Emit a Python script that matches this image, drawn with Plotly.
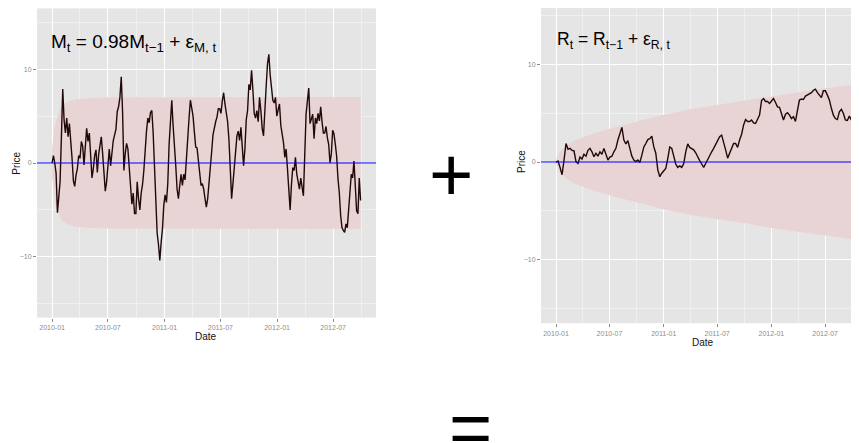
import pandas as pd
import plotly.graph_objects as go

# ---------------- data ----------------
START_DATE = "2010-01-01"
END_DATE = "2012-09-28"

m_values = [
    0.0, 0.8, 0.0, -1.1, -5.3, -3.5, -2.0, 2.8, 7.9, 4.6, 3.2, 4.8, 2.8, 4.2, 2.7, 0.5,
    -1.9, -2.5, -1.3, -0.6, 0.8, 0.5, 2.3, 1.8, -0.2, 1.4, 3.7, 2.3, 3.2, 0.8, -1.6, -0.6,
    0.8, 1.4, -1.0, 0.9, 2.0, 2.8, 1.0, -1.5, -3.0, -2.0, -0.2, 1.5, -0.3, 1.2, 2.4, 3.0,
    3.6, 5.5, 6.0, 7.0, 9.2, 5.5, -0.8, 1.0, 2.1, 1.5, -0.5, -2.2, -4.4, -3.2, -5.4, -5.4,
    -2.0, -3.8, -5.0, -3.2, -2.3, -0.8, 1.9, 3.4, 4.8, 4.3, 5.4, 5.6, 3.2, -0.8, -3.5, -7.5,
    -8.7, -10.4, -8.5, -7.0, -4.5, -3.4, -4.2, -2.2, 2.0, 4.8, 6.7, 4.0, 2.2, -0.3, -2.8, -3.8,
    -2.4, -1.2, -2.4, -1.2, -1.8, 0.8, 2.6, 4.8, 6.7, 6.0, 5.0, 3.3, 1.7, 1.6, 0.0, -1.3,
    -2.4, -2.2, -2.8, -3.8, -4.7, -3.8, -1.8, -0.3, 1.2, 3.0, 3.8, 4.4, 4.9, 5.8, 5.8, 5.3,
    6.6, 7.5, 6.3, 5.2, 4.4, 2.5, -1.5, -3.8, -2.2, -0.2, 1.2, 2.9, 3.4, 2.4, 3.8, 1.5,
    -0.3, 1.5, 4.6, 5.6, 8.4, 7.8, 9.9, 7.8, 5.3, 4.8, 5.6, 4.4, 7.0, 5.6, 3.7, 2.9,
    5.0, 8.2, 10.6, 11.6, 9.4, 8.2, 6.7, 6.4, 7.0, 5.0, 5.8, 6.3, 4.0, 3.1, 2.2, 0.6,
    1.5, -0.6, -3.0, -5.0, -2.3, -0.5, -0.8, 0.6, -1.2, -2.0, -2.8, -1.6, -2.6, -3.5, 0.8, 5.2,
    6.6, 8.0, 4.2, 4.7, 5.2, 2.6, 4.8, 4.2, 5.3, 4.5, 6.0, 4.4, 3.2, 3.2, 3.9, 2.7,
    2.0, 0.0, 1.0, 3.5, 3.1, 2.0, 0.7, -1.7, -3.2, -5.6, -6.9, -7.2, -7.4, -6.5, -6.9, -5.0,
    -2.4, -1.2, -1.6, 0.2, -2.4, -5.1, -5.4, -1.6, -4.0,
]

r_values = [
    0.0, 0.1, -0.55, -1.3, 0.2, 1.9, 1.3, 1.4, 1.2, 1.15, 0.05, -0.15, 0.5, 0.3, 0.8, 0.6,
    1.2, 1.4, 1.05, 0.55, 0.9, 0.6, 1.05, 0.8, 1.4, 0.7, 0.2, 0.5, 0.6, 1.05, 1.4, 2.25,
    3.0, 3.55, 2.25, 1.85, 2.2, 1.4, 0.6, 0.2, 0.05, 0.2, -0.05, 0.7, 1.55, 1.9, 2.3, 2.4,
    2.65, 1.55, 0.9, -0.8, -1.5, -1.15, -0.9, -0.65, 0.35, 1.55, 1.4, 0.55, -0.2, -0.55, -0.4, -0.55,
    -0.15, 1.05, 1.85, 1.5, 1.4, 1.25, 0.95, 0.5, 0.15, -0.2, -0.55, -0.15, 0.2, 0.55, 1.05, 1.4,
    1.75, 2.1, 2.6, 2.75, 2.1, 1.25, 0.4, 0.9, 1.25, 1.9, 1.9, 1.5, 2.25, 2.85, 3.8, 4.35,
    4.15, 4.15, 4.3, 4.0, 3.95, 4.3, 4.8, 6.3, 6.5, 6.2, 6.2, 6.0, 6.3, 6.5, 6.1, 5.65,
    5.6, 4.8, 4.3, 4.9, 5.05, 4.8, 4.45, 4.65, 4.15, 5.3, 6.35, 6.45, 6.4, 6.75, 6.85, 7.0,
    7.1, 7.35, 7.45, 7.1, 6.85, 6.6, 7.3, 7.3, 6.85, 6.35, 5.5, 4.8, 4.45, 4.35, 5.15, 5.4,
    5.0, 4.3, 4.25, 4.7, 4.3,
]

m_band_dates = ["2010-01-01", "2010-01-04", "2010-01-08", "2010-01-12", "2010-01-19",
                "2010-01-26", "2010-02-02", "2010-02-13", "2010-03-02", "2010-04-19",
                "2010-06-30", "2012-09-28"]
m_band_half = [1.5, 2.6, 3.5, 4.3, 5.1, 5.7, 6.1, 6.4, 6.7, 6.9, 7.0, 7.05]

r_band_dates = ["2010-01-01", "2010-01-05", "2010-01-14", "2010-02-05", "2010-03-05",
                "2010-04-03", "2010-05-15", "2010-07-25", "2010-11-15", "2011-01-01",
                "2011-04-01", "2011-07-01", "2011-10-01", "2012-01-01", "2012-04-01",
                "2012-07-01", "2012-09-28"]
r_band_half = [0.0, 0.6, 1.05, 1.7, 2.2, 2.55, 3.0, 3.6, 4.45, 4.85,
               5.4, 5.85, 6.25, 6.75, 7.15, 7.55, 7.88]

mean_level = 0
left_equation = "M<sub>t</sub> = 0.98M<sub>t\u22121</sub> + \u03b5<sub>M, t</sub>"
right_equation = "R<sub>t</sub> = R<sub>t\u22121</sub> + \u03b5<sub>R, t</sub>"
y_ticks = [-10, 0, 10]
x_title = "Date"
y_title = "Price"

# ---------------- figure ----------------
# the page body has an 8px margin, so the figure is laid out 8px smaller
OFF = 8
W, H = 859 - OFF, 443 - OFF
FONT = "Liberation Sans, Arial, sans-serif"
PANEL_BG = "#E5E5E5"
RIBBON = "#E8D4D4"
LINE = "#220808"
HLINE = "rgba(0,0,255,0.5)"
TICK_GREY = "#8c8c8c"


def px(x):
    return (x - OFF) / W


def py(y):
    return 1 - (y - OFF) / H


m_dates = pd.date_range(START_DATE, END_DATE, periods=len(m_values))
r_dates = pd.date_range(START_DATE, END_DATE, periods=len(r_values))


def band_trace(dates, half, xa, ya):
    d = pd.to_datetime(dates)
    xs = list(d) + list(d[::-1])
    ys = list(half) + [-h for h in half[::-1]]
    return go.Scatter(x=xs, y=ys, fill="toself", fillcolor=RIBBON, mode="lines",
                      line=dict(width=0), hoverinfo="skip", showlegend=False,
                      xaxis=xa, yaxis=ya)


fig = go.Figure()
fig.add_trace(band_trace(m_band_dates, m_band_half, "x", "y"))
fig.add_trace(go.Scatter(x=m_dates, y=m_values, mode="lines",
                         line=dict(color=LINE, width=1.4), showlegend=False,
                         xaxis="x", yaxis="y"))
fig.add_trace(band_trace(r_band_dates, r_band_half, "x2", "y2"))
fig.add_trace(go.Scatter(x=r_dates, y=r_values, mode="lines",
                         line=dict(color=LINE, width=1.4), showlegend=False,
                         xaxis="x2", yaxis="y2"))

xcommon = dict(type="date", tickformat="%Y-%m", dtick="M6", tick0="2010-01-01",
               showgrid=True, gridcolor="white", gridwidth=1,
               minor=dict(dtick="M3", tick0="2010-01-01", showgrid=True,
                          gridcolor="#F0F0F0", gridwidth=0.6),
               ticks="outside", ticklen=3, tickcolor=TICK_GREY, tickwidth=1,
               tickfont=dict(family=FONT, size=7, color=TICK_GREY),
               zeroline=False, showline=False, automargin=False)
ycommon = dict(tickvals=y_ticks,
               showgrid=True, gridcolor="white", gridwidth=1,
               minor=dict(dtick=5, showgrid=True, gridcolor="#F0F0F0", gridwidth=0.6),
               ticks="outside", ticklen=3, tickcolor=TICK_GREY, tickwidth=1,
               tickfont=dict(family=FONT, size=7, color=TICK_GREY),
               zeroline=False, showline=False, automargin=False)

fig.update_layout(
    width=W, height=H,
    margin=dict(l=0, r=0, t=0, b=0),
    paper_bgcolor="white", plot_bgcolor=PANEL_BG,
    showlegend=False,
    xaxis=dict(xcommon, domain=[px(37), px(376)], range=["2009-11-13", "2012-11-17"],
               anchor="y"),
    yaxis=dict(ycommon, domain=[py(317.6), py(8.4)], range=[-16.5, 16.5], anchor="x"),
    xaxis2=dict(xcommon, domain=[px(541), 1.0], range=["2009-11-11", "2012-10-24"],
                anchor="y2"),
    yaxis2=dict(ycommon, domain=[py(323.2), 1.0], range=[-16.5, 15.77], anchor="x2"),
)

for xr, yr in (("x", "y"), ("x2", "y2")):
    fig.add_shape(type="line", xref=f"{xr} domain", x0=0, x1=1, yref=yr,
                  y0=mean_level, y1=mean_level, line=dict(color=HLINE, width=2),
                  layer="above")

title_font = dict(family=FONT, size=10, color="#111")
for (tx, ty) in ((206, 336), (703, 342.5)):
    fig.add_annotation(text=x_title, xref="paper", yref="paper", x=px(tx), y=py(ty),
                       xanchor="center", yanchor="middle", showarrow=False,
                       font=title_font)
for (tx, ty) in ((15.7, 163), (521, 162)):
    fig.add_annotation(text=y_title, xref="paper", yref="paper", x=px(tx), y=py(ty),
                       xanchor="center", yanchor="middle", showarrow=False,
                       textangle=-90, font=title_font)

fig.add_annotation(text=left_equation, xref="paper", yref="paper",
                   x=px(49), y=py(43), xanchor="left", yanchor="middle",
                   showarrow=False, font=dict(family=FONT, size=19, color="black"))
fig.add_annotation(text=right_equation, xref="paper", yref="paper",
                   x=px(555), y=py(40), xanchor="left", yanchor="middle",
                   showarrow=False, font=dict(family=FONT, size=17.5, color="black"))

fig.add_annotation(text="+", xref="paper", yref="paper",
                   x=px(451), y=py(175), xanchor="center", yanchor="middle",
                   showarrow=False, font=dict(family=FONT, size=76, color="black"))
fig.add_annotation(text="=", xref="paper", yref="paper",
                   x=px(470), y=py(427.5), xanchor="center", yanchor="middle",
                   showarrow=False, font=dict(family=FONT, size=74, color="black"))

fig.write_html("out.html")
